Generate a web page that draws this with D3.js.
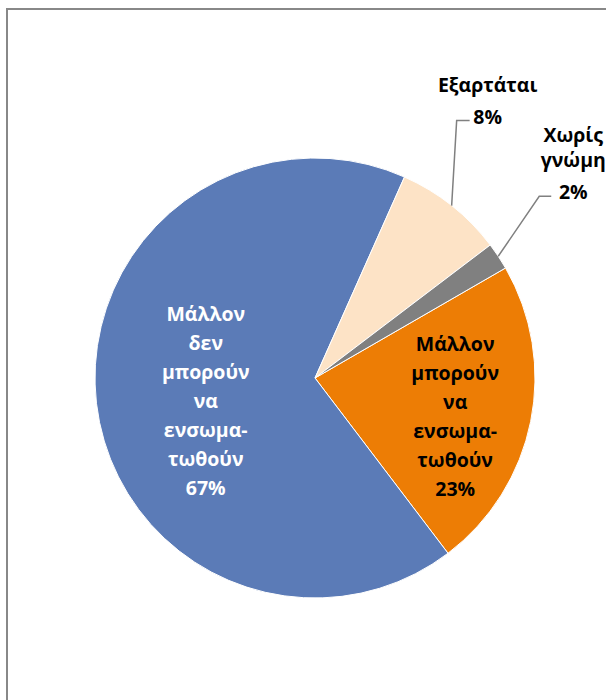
<!DOCTYPE html>
<html>
<head>
<meta charset="utf-8">
<script src="https://cdn.jsdelivr.net/npm/d3@7"></script>
<style>
  html, body { margin: 0; padding: 0; background: #fff; }
  svg { display: block; }
</style>
</head>
<body>
<div id="chart"></div>
<script>
/* pie: attitudes toward integration (shares, %) */
const categories = ['Μάλλον μπορούν να ενσωματωθούν', 'Μάλλον δεν μπορούν να ενσωματωθούν', 'Εξαρτάται', 'Χωρίς γνώμη'];
const values = [23, 67, 8, 2];
const labelLines = [
  ['Μάλλον', 'μπορούν', 'να', 'ενσωμα-', 'τωθούν', '23%'],
  ['Μάλλον', 'δεν', 'μπορούν', 'να', 'ενσωμα-', 'τωθούν', '67%'],
  ['Εξαρτάται', '8%'],
  ['Χωρίς', 'γνώμη', '2%']
];
const colors = ['#ED7D05', '#5B7BB7', '#FDE3C6', '#808080'];

const W = 606, H = 700;
const cx = 315, cy = 378, R = 220;
const FONT = '"Open Sans", "Noto Sans", sans-serif';
const FS = 19.5;

const svg = d3.select('#chart').append('svg')
  .attr('width', W).attr('height', H);

/* chart frame (runs off right & bottom) */
svg.append('rect')
  .attr('x', 7).attr('y', 9).attr('width', 620).attr('height', 720)
  .attr('fill', 'none').attr('stroke', '#888').attr('stroke-width', 2);

const g = svg.append('g').attr('transform', `translate(${cx},${cy})`);

const rot = 60 * Math.PI / 180;
const pie = d3.pie().sort(null)
  .startAngle(rot).endAngle(rot + 2 * Math.PI);
const arcs = pie(values);
const arc = d3.arc().innerRadius(0).outerRadius(R);

g.selectAll('path.slice').data(arcs).join('path')
  .attr('class', 'slice')
  .attr('d', arc)
  .attr('fill', (d, i) => colors[i])
  .attr('stroke', '#fff').attr('stroke-width', 1);

const mid = d => (d.startAngle + d.endAngle) / 2;
const polar = (a, r) => [Math.sin(a) * r, -Math.cos(a) * r];

const LH = 29;

/* inside labels: placed along the mid-angle */
const inside = [
  { i: 0, r: 0.65, fill: '#000' },
  { i: 1, r: 0.5, fill: '#fff' }
];
inside.forEach(({ i, r, fill }) => {
  const d = arcs[i];
  const [x, y] = polar(mid(d), R * r);
  const lines = labelLines[i];
  const y0 = y + 10 - (lines.length - 1) * LH / 2;
  const t = g.append('text')
    .attr('text-anchor', 'middle')
    .attr('font-family', FONT).attr('font-weight', 700)
    .attr('font-size', FS).attr('fill', fill);
  lines.forEach((s, k) => {
    t.append('tspan').attr('x', x).attr('y', y0 + k * LH + 7).text(s);
  });
});

/* outside labels with elbow leaders */
const outside = [
  { i: 2, elbow: [5, -85], tail: 13, dx: 18, gaps: [32] },
  { i: 3, elbow: [41, -60], tail: 12, dx: 22, gaps: [25, 32] }
];
outside.forEach(({ i, elbow, tail, dx, gaps }) => {
  const d = arcs[i];
  const p0 = polar(mid(d), R);
  const p1 = [p0[0] + elbow[0], p0[1] + elbow[1]];
  const p2 = [p1[0] + tail, p1[1]];
  g.append('polyline')
    .attr('points', [p0, p1, p2].map(p => p.join(',')).join(' '))
    .attr('fill', 'none').attr('stroke', '#808080').attr('stroke-width', 1.5);

  const lines = labelLines[i];
  const t = g.append('text')
    .attr('text-anchor', 'middle')
    .attr('font-family', FONT).attr('font-weight', 700)
    .attr('font-size', FS).attr('fill', '#000');
  let yy = p1[1] + 2;
  const ys = [yy];
  for (let k = gaps.length - 1; k >= 0; k--) { yy -= gaps[k]; ys.unshift(yy); }
  lines.forEach((s, k) => {
    t.append('tspan').attr('x', p2[0] + dx).attr('y', ys[k] + 1).text(s);
  });
});
</script>
</body>
</html>
